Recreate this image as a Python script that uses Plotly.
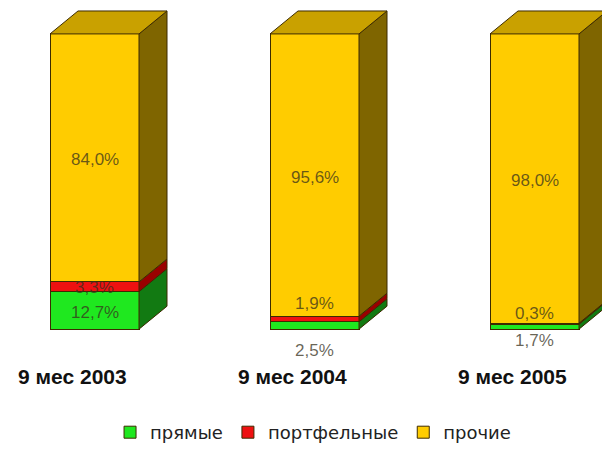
import plotly.graph_objects as go

categories = ["9 мес 2003", "9 мес 2004", "9 мес 2005"]
series_names = ["прямые", "портфельные", "прочие"]
direct = [12.7, 2.5, 1.7]
portfolio = [3.3, 1.9, 0.3]
other = [84.0, 95.6, 98.0]
value_text = [
    ["12,7%", "2,5%", "1,7%"],
    ["3,3%", "1,9%", "0,3%"],
    ["84,0%", "95,6%", "98,0%"],
]

# front / side colours per series
FRONT = ["#1FE81F", "#EE1111", "#FFCC00"]
SIDE = ["#127A12", "#9A0000", "#7F6500"]
TOP = "#C9A100"
EDGE = "#3D2B00"

# geometry (pixels -> data units)
PX_X = 220.0          # pixels per category
PX_Y = 2.96           # pixels per percent
BAR_W = 89 / PX_X
DX = 28 / PX_X
DY = 23 / PX_Y

# pixel shifts for the small labels that Excel moved off the bar
label_shift = [
    [-2, -25, -14],
    [-1, 15, 10],
    [-2, -2, -2],
]

series = [direct, portfolio, other]
x = list(range(len(categories)))

fig = go.Figure()
for name, vals, col in zip(series_names, series, FRONT):
    fig.add_trace(go.Bar(
        x=x, y=vals, name=name, width=BAR_W,
        marker=dict(color=col, line=dict(color=EDGE, width=1)),
        hoverinfo="skip",
    ))

# 3D side and top faces, built from the stacked values
for i in x:
    xr = i + BAR_W / 2
    xl = i - BAR_W / 2
    base = 0.0
    for s, vals in enumerate(series):
        top = base + vals[i]
        path = (f"M{xr},{base} L{xr + DX},{base + DY} "
                f"L{xr + DX},{top + DY} L{xr},{top} Z")
        fig.add_shape(type="path", path=path, xref="x", yref="y",
                      fillcolor=SIDE[s], line=dict(color=EDGE, width=1))
        fig.add_annotation(
            x=i, y=base + vals[i] / 2, text=value_text[s][i],
            showarrow=False, yshift=label_shift[s][i],
            font=dict(family="Liberation Sans, Arial", size=17,
                      color="rgba(55,50,30,0.75)"),
        )
        base = top
    path = (f"M{xl},{base} L{xl + DX},{base + DY} "
            f"L{xr + DX},{base + DY} L{xr},{base} Z")
    fig.add_shape(type="path", path=path, xref="x", yref="y",
                  fillcolor=TOP, line=dict(color=EDGE, width=1))
    fig.add_annotation(
        x=i, y=0, text=f"<b>{categories[i]}</b>", showarrow=False,
        yanchor="middle", yshift=-47, xshift=-22,
        font=dict(family="Liberation Sans, Arial", size=21, color="#111111"),
    )

plot_h = 380
fig.update_layout(
    width=602, height=451,
    margin=dict(l=0, r=0, t=0, b=451 - plot_h),
    paper_bgcolor="white", plot_bgcolor="white",
    barmode="stack",
    xaxis=dict(visible=False, range=[-94.5 / PX_X, -94.5 / PX_X + 602 / PX_X]),
    yaxis=dict(visible=False, range=[-(plot_h - 330) / PX_Y, 34 / PX_Y + 100]),
    showlegend=True,
    legend=dict(
        orientation="h", x=0.52, xanchor="center",
        y=-(434 - plot_h) / plot_h, yanchor="middle",
        font=dict(family="DejaVu Sans", size=18, color="#222222"),
        itemwidth=30, traceorder="normal",
    ),
)

fig.write_html("out.html", config={"displayModeBar": False},
               post_script="document.body.style.margin='0px';")
